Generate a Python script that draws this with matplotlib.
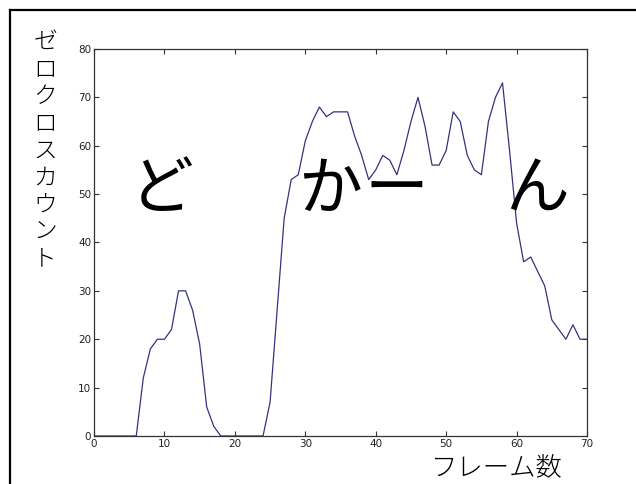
import matplotlib
matplotlib.use("Agg")
import matplotlib.pyplot as plt
from matplotlib.lines import Line2D

# zero-cross count per frame
frames = list(range(0, 71))
counts = [0, 0, 0, 0, 0, 0, 0, 12, 18, 20,
          20, 22, 30, 30, 26, 19, 6, 2, 0, 0,
          0, 0, 0, 0, 0, 7, 26, 45, 53, 54,
          61, 65, 68, 66, 67, 67, 67, 62, 58, 53,
          55, 58, 57, 54, 59, 65, 70, 64, 56, 56,
          59, 67, 65, 58, 55, 54, 65, 70, 73, 59,
          44, 36, 37, 34, 31, 24, 22, 20, 23, 20,
          20]

x_ticks = [0, 10, 20, 30, 40, 50, 60, 70]
y_ticks = [0, 10, 20, 30, 40, 50, 60, 70, 80]
ylabel = "ゼロクロスカウント"
xlabel = "フレーム数"
big_chars = ["ど", "か", "ー", "ん"]

jp = ["Noto Sans CJK JP", "DejaVu Sans"]
num = ["Liberation Sans Narrow", "DejaVu Sans"]

fig = plt.figure(figsize=(6.36, 4.84), dpi=100)
ax = fig.add_axes([0.1478, 0.0992, 0.7752, 0.7996])

ax.plot(frames, counts, color="#34347c", lw=0.9)
ax.set_xlim(0, 70)
ax.set_ylim(0, 80)
ax.set_xticks(x_ticks)
ax.set_yticks(y_ticks)
ax.set_xticklabels([str(t) for t in x_ticks], family=num, fontsize=7.5, color="#222222")
ax.set_yticklabels([str(t) for t in y_ticks], family=num, fontsize=7.5, color="#222222")
ax.tick_params(direction="in", length=3.5, width=0.8, top=True, right=True, pad=2,
               color="#333333")
for s in ax.spines.values():
    s.set_linewidth(0.9)
    s.set_color("#333333")

# vertical y label, one character per row
fig.text(0.071, 0.938, "\n".join(ylabel), family=jp, fontsize=17, fontweight="light",
         ha="center", va="top", linespacing=1.11)
fig.text(0.782, 0.035, xlabel, family=jp, fontsize=19, fontweight="light",
         ha="center", va="center")

# big onomatopoeia
for cx, ch in zip([0.255, 0.519, 0.624, 0.845], big_chars):
    fig.text(cx, 0.607, ch, family=jp, fontsize=46, ha="center", va="center")

# partial outer frame
fig.add_artist(Line2D([0.016, 0.016], [0.0, 0.979], transform=fig.transFigure,
                      color="black", lw=1.6))
fig.add_artist(Line2D([0.016, 1.0], [0.979, 0.979], transform=fig.transFigure,
                      color="black", lw=1.6))

fig.savefig("out.png", dpi=100)
